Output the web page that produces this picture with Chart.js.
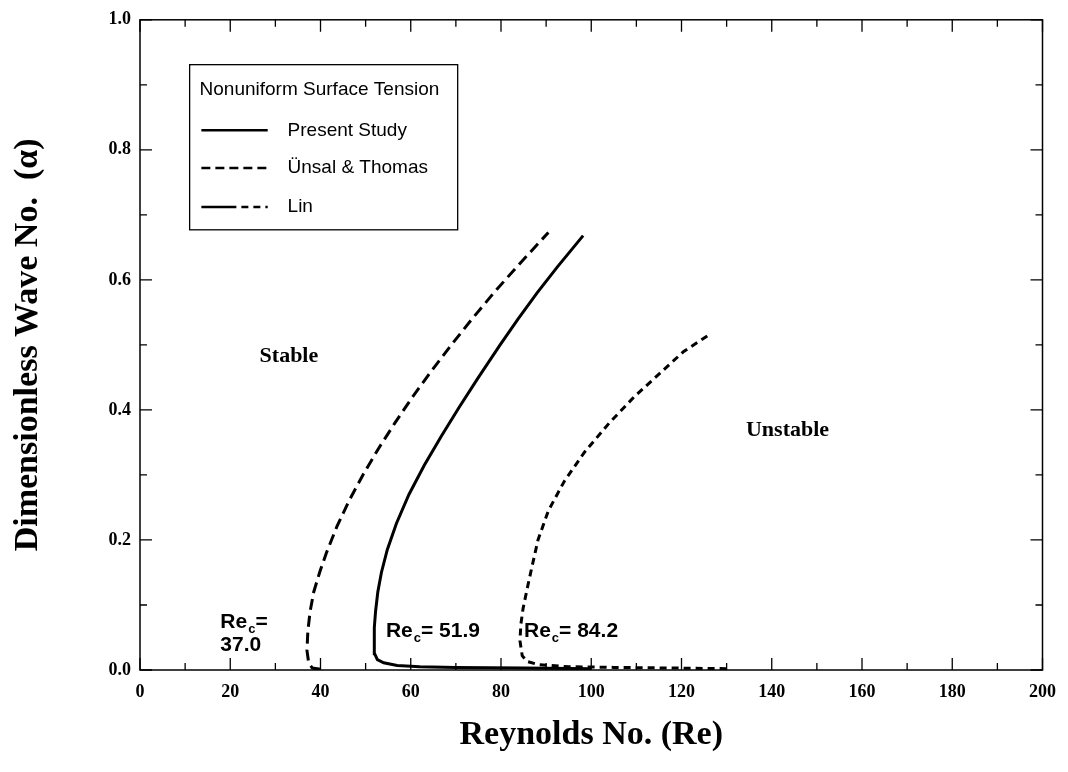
<!DOCTYPE html>
<html>
<head>
<meta charset="utf-8">
<script src="https://cdn.jsdelivr.net/npm/chart.js@4.4.1/dist/chart.umd.min.js"></script>
<style>
  html, body { margin: 0; padding: 0; background: #fff; }
  #wrap { width: 1068px; height: 772px; }
</style>
</head>
<body>
<div id="wrap"><canvas id="chart" width="1068" height="772"></canvas></div>
<script>
const presentRe = [100, 85, 70, 62, 57, 54, 52.6, 52.0, 51.9, 51.95, 52.2, 52.7, 53.5, 54.8, 56.8, 59.6, 63.0, 66.8, 70.8, 75.0, 79.8, 83.8, 88.0, 92.5, 98.2];
const presentAlpha = [0.002, 0.003, 0.004, 0.005, 0.007, 0.011, 0.016, 0.025, 0.04, 0.065, 0.09, 0.12, 0.15, 0.185, 0.225, 0.27, 0.315, 0.36, 0.405, 0.45, 0.5, 0.54, 0.58, 0.62, 0.668];

// Unsal & Thomas (short dashes)
const unsalRe = [130, 118, 105, 95, 88.5, 85.8, 84.7, 84.2, 84.4, 84.9, 85.8, 86.9, 88.2, 90.5, 94.0, 98.5, 104.0, 109.5, 115.0, 120.5, 126.0];
const unsalAlpha = [0.002, 0.003, 0.004, 0.005, 0.008, 0.013, 0.022, 0.045, 0.07, 0.095, 0.125, 0.16, 0.2, 0.245, 0.29, 0.335, 0.38, 0.42, 0.455, 0.49, 0.515];

// Lin (long dashes)
const linRe = [40, 38.2, 37.4, 37.0, 37.2, 37.7, 38.5, 39.8, 41.3, 43.6, 46.3, 49.4, 52.8, 56.5, 60.4, 64.6, 69.0, 73.6, 78.4, 83.5, 90.5];
const linAlpha = [0.001, 0.003, 0.01, 0.03, 0.06, 0.09, 0.12, 0.15, 0.18, 0.22, 0.26, 0.3, 0.34, 0.38, 0.42, 0.46, 0.5, 0.54, 0.58, 0.62, 0.673];

const seriesNames = ["Present Study", "\u00dcnsal & Thomas", "Lin"];
const legendTitle = "Nonuniform Surface Tension";
const criticalRe = ["37.0", "51.9", "84.2"];
const regionLabels = ["Stable", "Unstable"];

const toPoints = (xs, ys) => xs.map((x, i) => ({ x: x, y: ys[i] }));

const serif = "'Liberation Serif', 'Times New Roman', serif";
const sans = "'Liberation Sans', Arial, sans-serif";

// inward ticks, frame, legend box and text notes
const decorations = {
  id: "decorations",
  afterDraw(chart) {
    const ctx = chart.ctx;
    const xs = chart.scales.x;
    const ys = chart.scales.y;
    const a = chart.chartArea;
    const px = (v) => xs.getPixelForValue(v);
    const py = (v) => ys.getPixelForValue(v);

    ctx.save();
    ctx.strokeStyle = "#000";
    ctx.lineWidth = 1.5;
    ctx.strokeRect(a.left, a.top, a.right - a.left, a.bottom - a.top);

    ctx.lineWidth = 1.3;
    ctx.beginPath();
    for (let v = 0; v <= 200; v += 10) {
      const len = v % 20 === 0 ? 12 : 7;
      const x = px(v);
      ctx.moveTo(x, a.bottom); ctx.lineTo(x, a.bottom - len);
      ctx.moveTo(x, a.top); ctx.lineTo(x, a.top + len);
    }
    for (let i = 0; i <= 10; i++) {
      const len = i % 2 === 0 ? 12 : 7;
      const y = py(i / 10);
      ctx.moveTo(a.left, y); ctx.lineTo(a.left + len, y);
      ctx.moveTo(a.right, y); ctx.lineTo(a.right - len, y);
    }
    ctx.stroke();

    // legend box
    const bx0 = px(11), bx1 = px(70.4), by0 = py(0.931), by1 = py(0.677);
    ctx.fillStyle = "#fff";
    ctx.fillRect(bx0, by0, bx1 - bx0, by1 - by0);
    ctx.lineWidth = 1.3;
    ctx.strokeRect(bx0, by0, bx1 - bx0, by1 - by0);

    ctx.fillStyle = "#000";
    ctx.font = "19px " + sans;
    ctx.textBaseline = "middle";
    ctx.textAlign = "left";
    ctx.fillText(legendTitle, px(13.2), py(0.893));

    const rows = [0.830, 0.772, 0.712];
    const dashes = [[], [9, 5], [35, 5, 7, 5, 7, 5, 7, 20]];
    rows.forEach((r, i) => {
      const y = py(r);
      ctx.lineWidth = 2.5;
      ctx.setLineDash(dashes[i]);
      ctx.beginPath();
      ctx.moveTo(px(13.6), y);
      ctx.lineTo(px(28.3), y);
      ctx.stroke();
      ctx.setLineDash([]);
      ctx.fillText(seriesNames[i], px(32.7), y);
    });

    // Stable / Unstable
    ctx.font = "bold 22px " + serif;
    ctx.textAlign = "center";
    ctx.fillText(regionLabels[0], px(33), py(0.482));
    ctx.fillText(regionLabels[1], px(143.5), py(0.368));

    // critical Reynolds numbers
    const reLabel = (x, y, tail) => {
      ctx.textAlign = "left";
      ctx.textBaseline = "alphabetic";
      ctx.font = "bold 21px " + sans;
      ctx.fillText("Re", x, y);
      let w = ctx.measureText("Re").width;
      ctx.font = "bold 13px " + sans;
      ctx.fillText("c", x + w + 1, y + 5);
      w += ctx.measureText("c").width + 1;
      ctx.font = "bold 21px " + sans;
      ctx.fillText(tail, x + w, y);
    };
    reLabel(px(17.8), py(0.065), "=");
    ctx.font = "bold 21px " + sans;
    ctx.fillText(criticalRe[0], px(17.8), py(0.029));
    reLabel(px(54.5), py(0.050), "= " + criticalRe[1]);
    reLabel(px(85.1), py(0.050), "= " + criticalRe[2]);
    ctx.restore();
  }
};

const lineStyle = {
  showLine: true,
  borderColor: "#000",
  borderWidth: 3,
  pointRadius: 0,
  tension: 0,
  fill: false,
};

new Chart(document.getElementById("chart").getContext("2d"), {
  type: "scatter",
  data: {
    datasets: [
      { ...lineStyle, label: seriesNames[0], data: toPoints(presentRe, presentAlpha) },
      { ...lineStyle, label: seriesNames[1], data: toPoints(unsalRe, unsalAlpha), borderDash: [7, 5] },
      { ...lineStyle, label: seriesNames[2], data: toPoints(linRe, linAlpha), borderDash: [11, 6] },
    ],
  },
  options: {
    responsive: false,
    animation: false,
    devicePixelRatio: 1,
    layout: { padding: { top: 13, right: 22, left: 0, bottom: 0 } },
    plugins: { legend: { display: false }, tooltip: { enabled: false } },
    scales: {
      x: {
        type: "linear",
        min: 0,
        max: 200,
        grid: { display: false, drawTicks: false },
        border: { display: false },
        ticks: { stepSize: 20, color: "#000", padding: 12, font: { family: serif, size: 18, weight: "bold" } },
        title: {
          display: true,
          text: "Reynolds No. (Re)",
          color: "#000",
          font: { family: serif, size: 34, weight: "bold" },
          padding: { top: 0, bottom: 16 },
        },
        afterFit(scale) { scale.height = 102; },
      },
      y: {
        type: "linear",
        min: 0,
        max: 1,
        grid: { display: false, drawTicks: false },
        border: { display: false },
        ticks: {
          stepSize: 0.2,
          color: "#000",
          padding: 9,
          font: { family: serif, size: 18, weight: "bold" },
          callback: (v) => v.toFixed(1),
        },
        title: {
          display: true,
          text: "Dimensionless Wave No.  (\u03b1)",
          color: "#000",
          font: { family: serif, size: 34, weight: "bold" },
          padding: { top: 8, bottom: 0 },
        },
        afterFit(scale) { scale.width = 140; },
      },
    },
  },
  plugins: [decorations],
});
</script>
</body>
</html>
